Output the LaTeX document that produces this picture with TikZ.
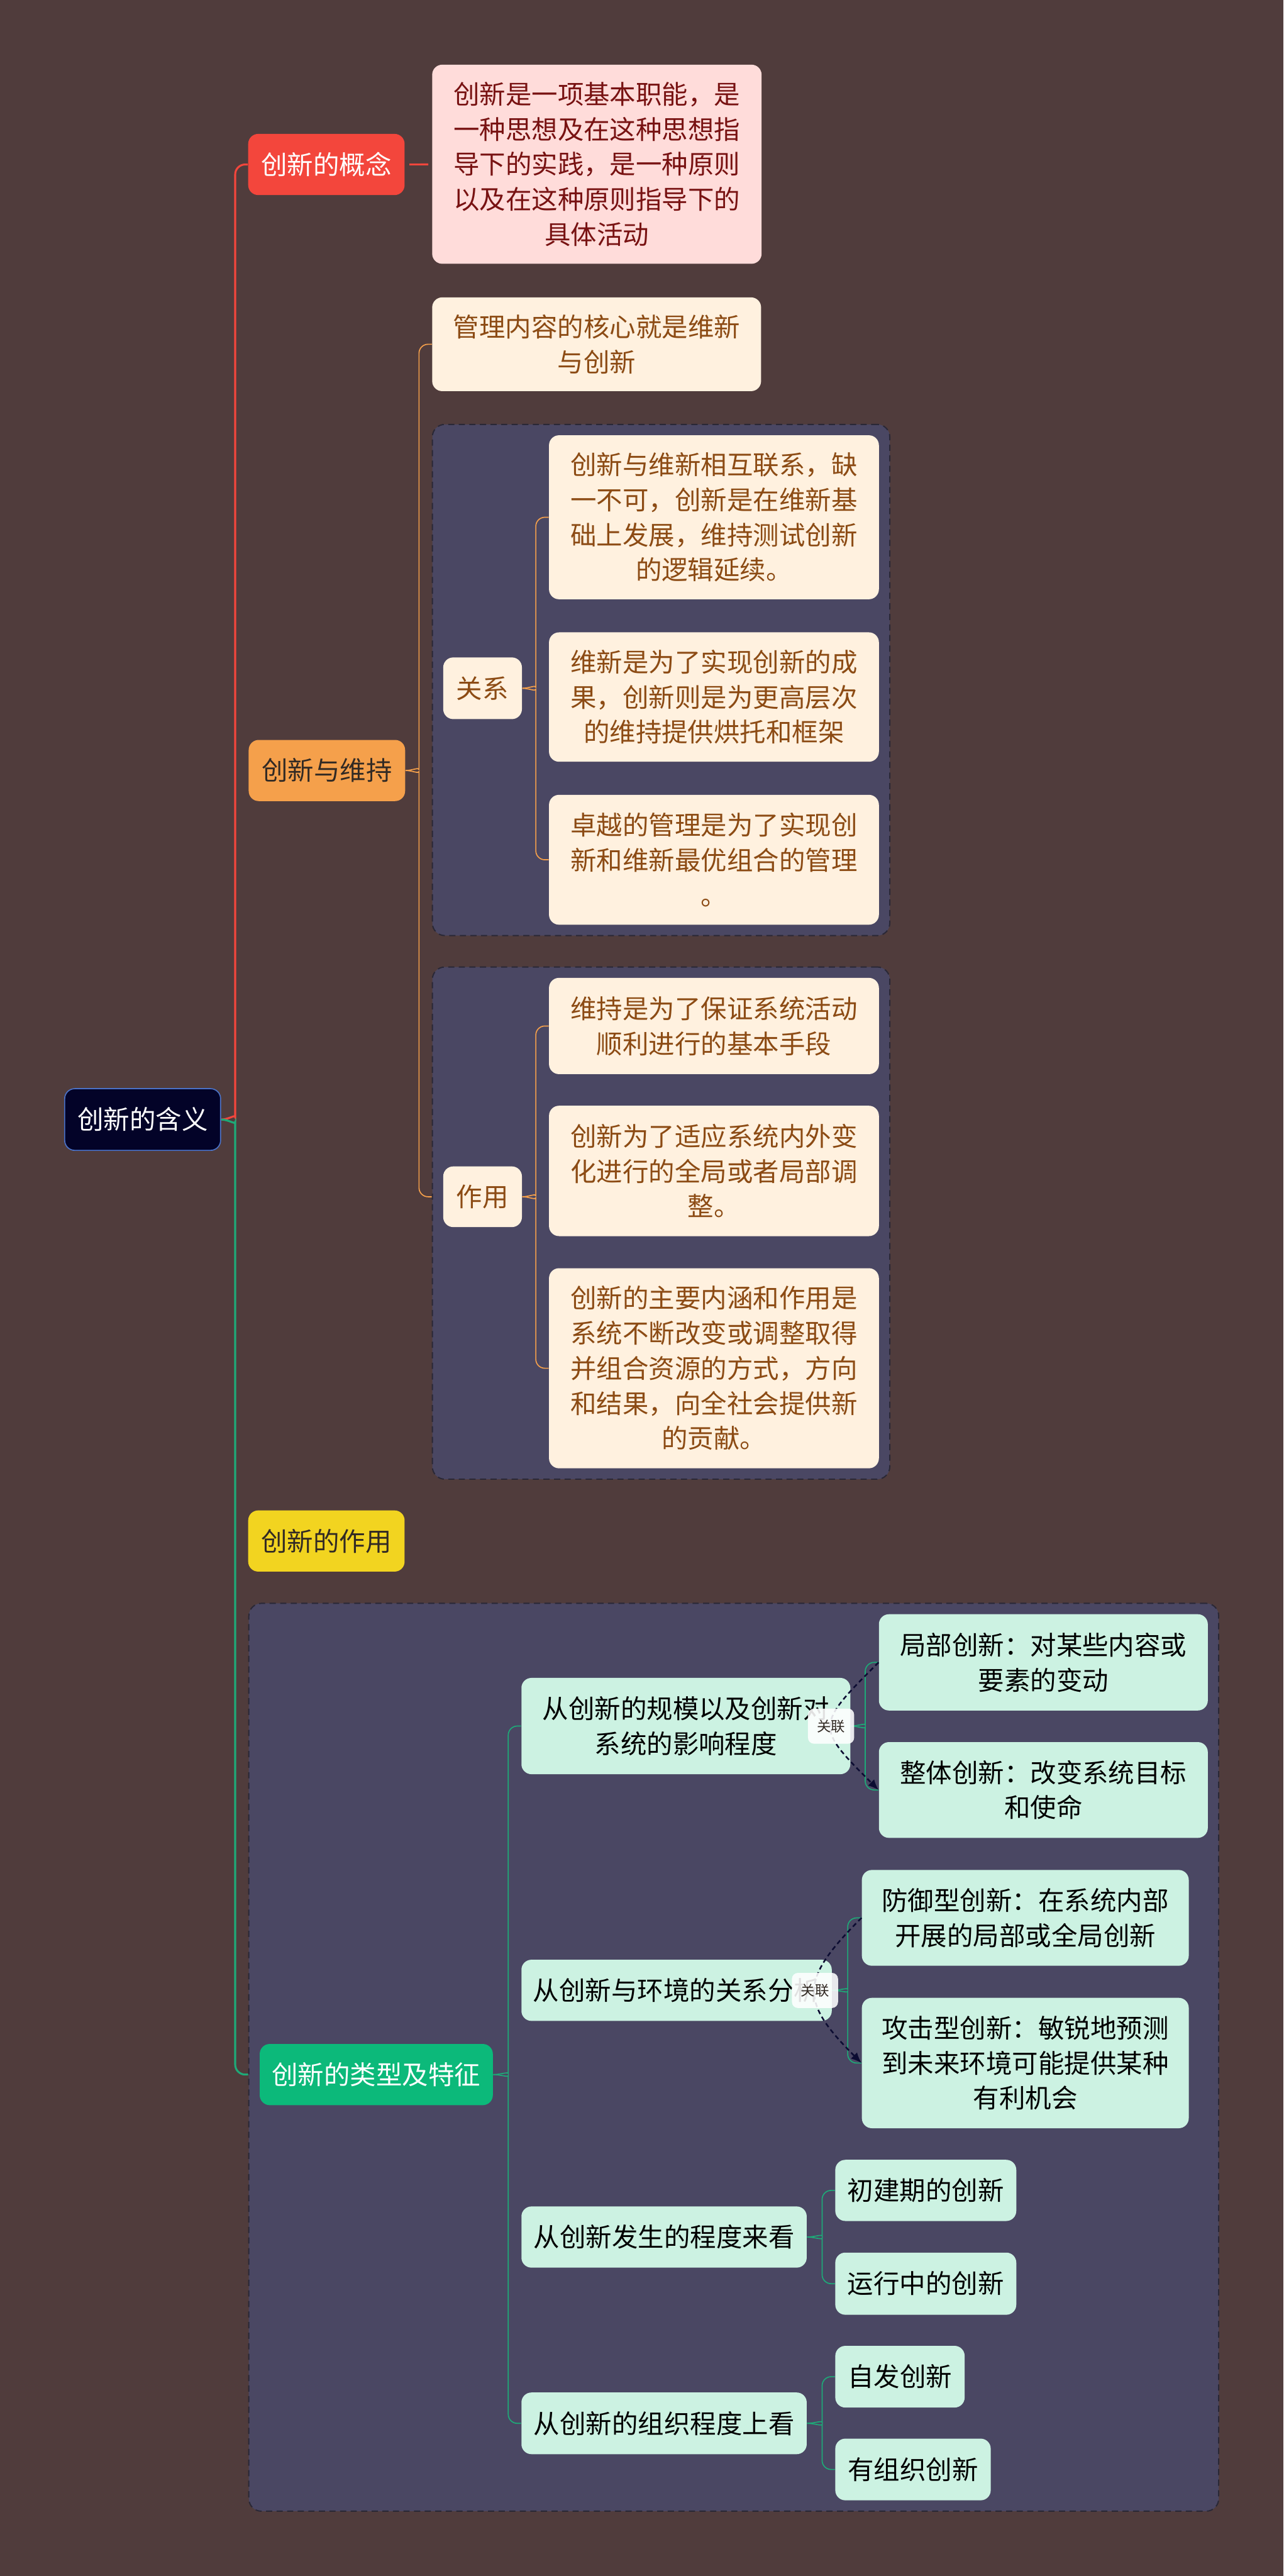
\documentclass[tikz,border=0pt]{standalone}
\usepackage{fontspec}
\setmainfont{Noto Sans CJK SC}
\usetikzlibrary{calc,fit,backgrounds,arrows.meta}
\definecolor{BgBrown}{RGB}{80,60,60}
\definecolor{GrpSlate}{RGB}{74,71,99}
\definecolor{GrpEdge}{RGB}{42,40,54}
\definecolor{RootNavy}{RGB}{3,3,40}
\definecolor{RootEdge}{RGB}{74,114,200}
\definecolor{ConRed}{RGB}{243,70,60}
\definecolor{ConPink}{RGB}{255,220,218}
\definecolor{ConText}{RGB}{120,18,18}
\definecolor{KeepOrange}{RGB}{245,160,75}
\definecolor{KeepCream}{RGB}{255,241,223}
\definecolor{KeepText}{RGB}{140,75,20}
\definecolor{UseYellow}{RGB}{242,212,32}
\definecolor{TypeGreen}{RGB}{12,185,122}
\definecolor{TypeMint}{RGB}{204,242,226}
\definecolor{BraceGreen}{RGB}{30,170,120}
\definecolor{LinkNavy}{RGB}{12,12,50}
\definecolor{DarkText}{RGB}{50,42,36}
\tikzset{
	box/.style={rounded corners=0.2cm,inner sep=0pt,align=center,
		font=\fontsize{14.8pt}{19.9pt}\selectfont},
	topic/.style={box,minimum width=3.12cm,minimum height=1.22cm},
	leafo/.style={box,fill=KeepCream,text=KeepText},
	leafg/.style={box,fill=TypeMint,text=black},
	grp/.style={draw=GrpEdge,dash pattern=on 3.5pt off 2.5pt,line width=0.7pt,
		fill=GrpSlate,rounded corners=0.25cm,inner sep=0.21cm},
	rootline/.style={line width=1.1pt,rounded corners=0.2cm},
	obr/.style={draw=KeepOrange,line width=0.6pt,rounded corners=0.18cm},
	gbr/.style={draw=BraceGreen,line width=0.6pt,rounded corners=0.18cm},
	link/.style={draw=LinkNavy,line width=0.9pt,dash pattern=on 2.6pt off 1.8pt,
		-{Latex[length=6pt,width=5pt]}},
	lnk/.style={fill=white,fill opacity=0.88,text opacity=1,rounded corners=0.12cm,
		minimum width=0.92cm,minimum height=0.7cm,inner sep=0pt,text=DarkText,
		font=\fontsize{8pt}{9pt}\selectfont},
}
\begin{document}
\begin{tikzpicture}
	\useasboundingbox (0,0) rectangle (25.6,-51.37);
	% root
	\node[box,fill=RootNavy,draw=RootEdge,line width=0.6pt,text=white,
		minimum width=3.11cm,minimum height=1.23cm] (root) at (2.845,-22.325) {创新的含义};
	% concept
	\node[topic,fill=ConRed,text=white] (concept) at (6.51,-3.28) {创新的概念};
	\node[box,fill=ConPink,text=ConText,minimum width=6.57cm,minimum height=3.97cm] (conceptnote) at (11.905,-3.275)
		{创新是一项基本职能，是\\一种思想及在这种思想指\\导下的实践，是一种原则\\以及在这种原则指导下的\\具体活动};
	% innovation and maintenance
	\node[topic,fill=KeepOrange,text=DarkText] (keep) at (6.52,-15.365) {创新与维持};
	\node[leafo,minimum width=6.56cm,minimum height=1.87cm] (core) at (11.90,-6.865) {管理内容的核心就是维新\\与创新};
	\node[leafo,minimum width=1.57cm,minimum height=1.23cm] (rel) at (9.625,-13.725) {关系};
	\node[leafo,minimum width=6.58cm,minimum height=3.27cm] (r1) at (14.24,-10.315)
		{创新与维新相互联系，缺\\一不可，创新是在维新基\\础上发展，维持测试创新\\的逻辑延续。};
	\node[leafo,minimum width=6.58cm,minimum height=2.58cm] (r2) at (14.24,-13.90)
		{维新是为了实现创新的成\\果，创新则是为更高层次\\的维持提供烘托和框架};
	\node[leafo,minimum width=6.58cm,minimum height=2.59cm] (r3) at (14.24,-17.145)
		{卓越的管理是为了实现创\\新和维新最优组合的管理\\。};
	\node[leafo,minimum width=1.57cm,minimum height=1.21cm] (eff) at (9.625,-23.865) {作用};
	\node[leafo,minimum width=6.58cm,minimum height=1.92cm] (e1) at (14.24,-20.46)
		{维持是为了保证系统活动\\顺利进行的基本手段};
	\node[leafo,minimum width=6.58cm,minimum height=2.60cm] (e2) at (14.24,-23.35)
		{创新为了适应系统内外变\\化进行的全局或者局部调\\整。};
	\node[leafo,minimum width=6.58cm,minimum height=3.99cm] (e3) at (14.24,-27.285)
		{创新的主要内涵和作用是\\系统不断改变或调整取得\\并组合资源的方式，方向\\和结果，向全社会提供新\\的贡献。};
	% role
	\node[topic,fill=UseYellow,text=DarkText] (use) at (6.51,-30.73) {创新的作用};
	% types
	\node[box,fill=TypeGreen,text=white,minimum width=4.65cm,minimum height=1.22cm] (types) at (7.505,-41.37) {创新的类型及特征};
	\node[leafg,minimum width=6.56cm,minimum height=1.92cm] (scale) at (13.68,-34.42) {从创新的规模以及创新对\\系统的影响程度};
	\node[leafg,minimum width=6.56cm,minimum height=1.92cm] (part) at (20.81,-33.15) {局部创新：对某些内容或\\要素的变动};
	\node[leafg,minimum width=6.56cm,minimum height=1.91cm] (whole) at (20.81,-35.695) {整体创新：改变系统目标\\和使命};
	\node[leafg,minimum width=6.19cm,minimum height=1.22cm] (env) at (13.495,-39.69) {从创新与环境的关系分析};
	\node[leafg,minimum width=6.52cm,minimum height=1.91cm] (guard) at (20.45,-38.245) {防御型创新：在系统内部\\开展的局部或全局创新};
	\node[leafg,minimum width=6.52cm,minimum height=2.60cm] (attack) at (20.45,-41.14) {攻击型创新：敏锐地预测\\到未来环境可能提供某种\\有利机会};
	\node[leafg,minimum width=5.69cm,minimum height=1.22cm] (stage) at (13.245,-44.61) {从创新发生的程度来看};
	\node[leafg,minimum width=3.61cm,minimum height=1.22cm] (early) at (18.465,-43.68) {初建期的创新};
	\node[leafg,minimum width=3.61cm,minimum height=1.24cm] (run) at (18.465,-45.54) {运行中的创新};
	\node[leafg,minimum width=5.69cm,minimum height=1.23cm] (org) at (13.245,-48.325) {从创新的组织程度上看};
	\node[leafg,minimum width=2.58cm,minimum height=1.23cm] (self) at (17.95,-47.395) {自发创新};
	\node[leafg,minimum width=3.10cm,minimum height=1.23cm] (plan) at (18.21,-49.245) {有组织创新};
	% background and groups
	\begin{scope}[on background layer]
		\fill[BgBrown] (0,0) rectangle (25.6,-51.37);
		\node[grp,fit=(rel)(r1)(r2)(r3)] (relgrp) {};
		\node[grp,fit=(eff)(e1)(e2)(e3)] (effgrp) {};
		\node[grp,fit=(types)(part)(plan)(guard)] (typegrp) {};
	\end{scope}
	% connectors
	\draw[rootline,ConRed] (concept.west) -| ($(root.east)+(0.28,0.25)$) to[out=-90,in=0] (root.east);
	\draw[rootline,BraceGreen] (root.east) to[out=0,in=90] ($(root.east)+(0.28,-0.25)$) |- (typegrp.west |- types.west);
	\draw[ConRed,line width=1pt,shorten <=0.09cm,shorten >=0.07cm] (concept) -- (conceptnote);
	\draw[obr] (core.west) -| ($(keep.east)+(0.27,0.2)$) to[out=-90,in=0] (keep.east);
	\draw[obr] (keep.east) to[out=0,in=90] ($(keep.east)+(0.27,-0.2)$) |- (effgrp.west |- eff.west);
	\draw[obr] (r1.west) -| ($(rel.east)+(0.27,0.2)$) to[out=-90,in=0] (rel.east);
	\draw[obr] (rel.east) to[out=0,in=90] ($(rel.east)+(0.27,-0.2)$) |- (r3.west);
	\draw[obr] (e1.west) -| ($(eff.east)+(0.27,0.2)$) to[out=-90,in=0] (eff.east);
	\draw[obr] (eff.east) to[out=0,in=90] ($(eff.east)+(0.27,-0.2)$) |- (e3.west);
	\draw[gbr] (scale.west) -| ($(types.east)+(0.30,0.2)$) to[out=-90,in=0] (types.east);
	\draw[gbr] (types.east) to[out=0,in=90] ($(types.east)+(0.30,-0.2)$) |- (org.west);
	\draw[gbr] (part.west) -| ($(scale.east)+(0.29,0.2)$) to[out=-90,in=0] (scale.east);
	\draw[gbr] (scale.east) to[out=0,in=90] ($(scale.east)+(0.29,-0.2)$) |- (whole.west);
	\draw[gbr] (guard.west) -| ($(env.east)+(0.31,0.2)$) to[out=-90,in=0] (env.east);
	\draw[gbr] (env.east) to[out=0,in=90] ($(env.east)+(0.31,-0.2)$) |- (attack.west);
	\draw[gbr] (early.west) -| ($(stage.east)+(0.30,0.2)$) to[out=-90,in=0] (stage.east);
	\draw[gbr] (stage.east) to[out=0,in=90] ($(stage.east)+(0.30,-0.2)$) |- (run.west);
	\draw[gbr] (self.west) -| ($(org.east)+(0.30,0.2)$) to[out=-90,in=0] (org.east);
	\draw[gbr] (org.east) to[out=0,in=90] ($(org.east)+(0.30,-0.2)$) |- (plan.west);
	% associations
	\draw[link] (part.west) to[out=225,in=135,looseness=1.8] node[lnk] {关联} (whole.west);
	\draw[link] (guard.west) to[out=225,in=135,looseness=1.55] node[lnk] {关联} (attack.west);
\end{tikzpicture}
\end{document}
